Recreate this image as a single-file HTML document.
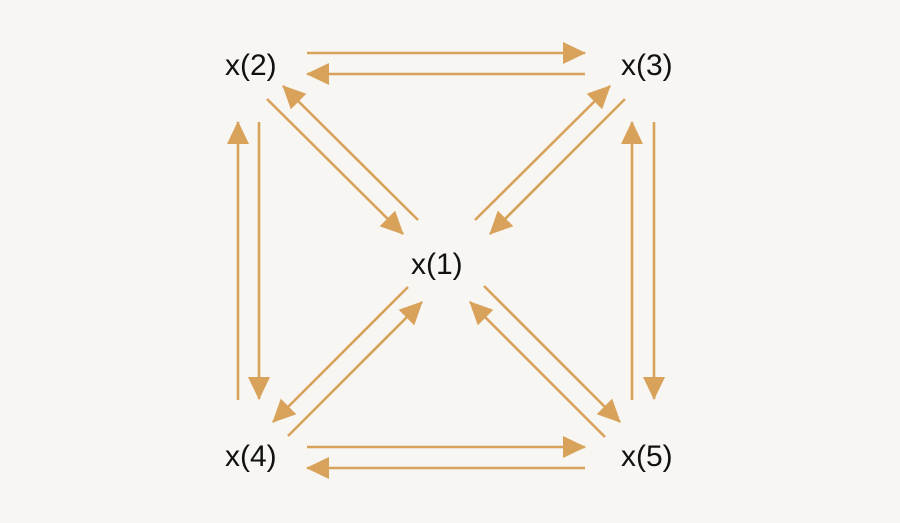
<!DOCTYPE html>
<html><head><style>
html,body{margin:0;padding:0;background:#f7f6f2;}
svg{display:block}
text{font-family:"Liberation Sans",sans-serif;font-size:30px;fill:#111;}
</style></head><body>
<svg width="900" height="523" viewBox="0 0 900 523">
<defs>
<marker id="a" markerWidth="24" markerHeight="22" refX="22" refY="11" orient="auto" markerUnits="userSpaceOnUse">
<path d="M0,0 L23,11 L0,22 Z" fill="#d9a25b"/>
</marker>
</defs>
<g stroke="#d9a25b" stroke-width="2.6" fill="none" marker-end="url(#a)">
<line x1="307" y1="53" x2="585" y2="53"/>
<line x1="585" y1="74" x2="307" y2="74"/>
<line x1="307" y1="447" x2="585" y2="447"/>
<line x1="585" y1="468" x2="307" y2="468"/>
<line x1="238" y1="400" x2="238" y2="122"/>
<line x1="259" y1="122" x2="259" y2="399"/>
<line x1="632" y1="400" x2="632" y2="122"/>
<line x1="654" y1="122" x2="654" y2="399"/>
<line x1="267" y1="99" x2="403" y2="234"/>
<line x1="418" y1="220" x2="283" y2="86"/>
<line x1="475" y1="220" x2="610" y2="86"/>
<line x1="625" y1="99" x2="490" y2="234"/>
<line x1="408" y1="287" x2="273" y2="422"/>
<line x1="288" y1="436" x2="422" y2="302"/>
<line x1="484" y1="286" x2="620" y2="422"/>
<line x1="605" y1="437" x2="470" y2="302"/>
</g>
<text x="225" y="75">x(2)</text>
<text x="621" y="75">x(3)</text>
<text x="411" y="274">x(1)</text>
<text x="225" y="466">x(4)</text>
<text x="621" y="466">x(5)</text>
</svg>
</body></html>
